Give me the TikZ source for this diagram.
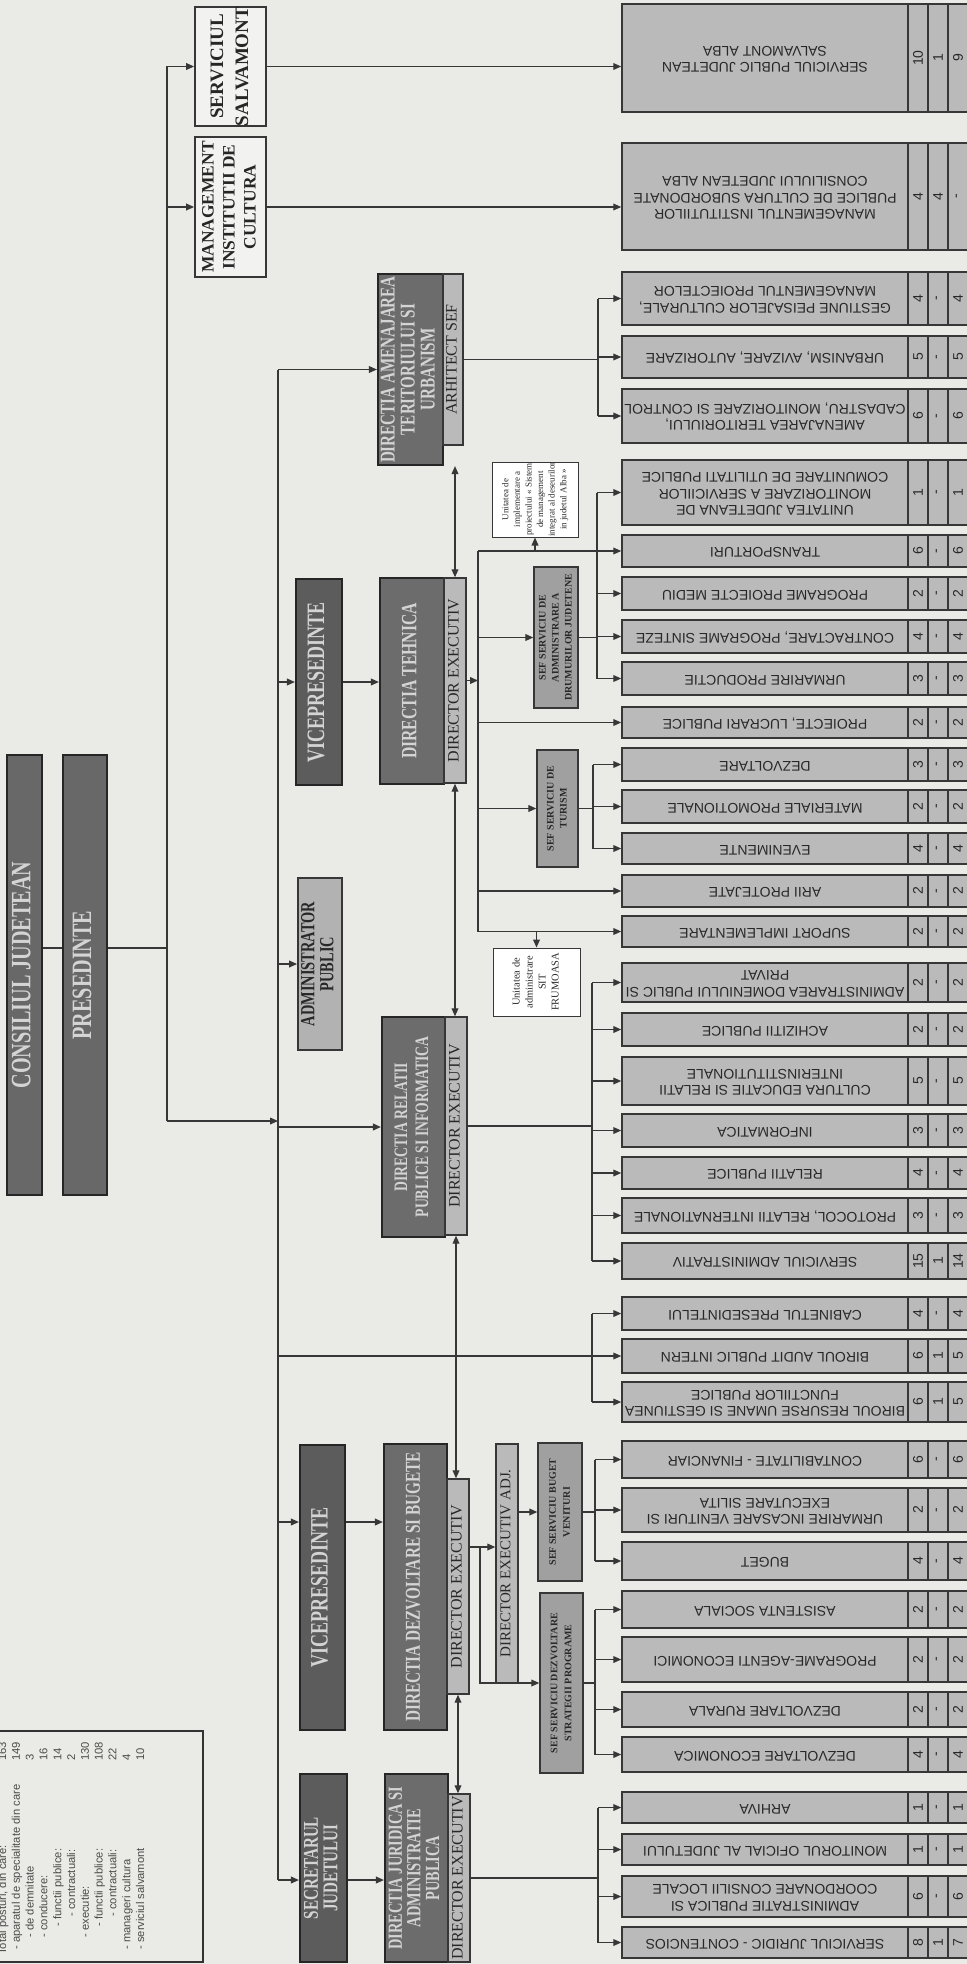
\documentclass[tikz,border=0pt]{standalone}
\usepackage{fontspec}
\setmainfont{Liberation Serif}
\newfontfamily\hfont[FakeStretch=0.72]{Liberation Serif}
\newfontfamily\sfont{Liberation Sans}
\usepackage{graphicx}
\usetikzlibrary{arrows.meta}
\definecolor{cpaper}{RGB}{234,234,231}
\definecolor{cline}{RGB}{55,55,55}
\definecolor{ctext}{RGB}{40,40,40}
\definecolor{ctop}{RGB}{104,104,104}
\definecolor{cvice}{RGB}{92,92,92}
\definecolor{cdir}{RGB}{108,108,108}
\definecolor{clite}{RGB}{186,186,186}
\definecolor{cadm}{RGB}{178,178,178}
\definecolor{cmid}{RGB}{160,160,160}
\definecolor{clight}{RGB}{212,212,212}
\definecolor{cleg}{RGB}{75,75,75}
\newcommand{\hf}[2]{\hfont\bfseries\fontsize{#1}{#2}\selectfont}
\newcommand{\vt}[1]{\rotatebox{90}{\begin{tabular}{@{}c@{}}#1\end{tabular}}}
\newcommand{\ut}[1]{\rotatebox{180}{\begin{tabular}{@{}c@{}}#1\end{tabular}}}
% box between two corners (pixel units): [style] name, x1, y1, x2, y2, text
\newcommand{\bx}[7][]{%
  \pgfmathsetmacro\bxw{(#5-#3)*0.5}\pgfmathsetmacro\bxh{(#6-#4)*0.5}%
  \node[#1,minimum width=\bxw pt,minimum height=\bxh pt] (#2) at ({(#3+#5)/2},{(#4+#6)/2}) {#7};}
% compartment on the right: name, top, bottom, text, total, conducere, executie
\newcommand{\rbox}[7]{%
  \bx[rb]{#1}{622}{#2}{908}{#3}{\ut{#4}}
  \bx[rb]{#1a}{908}{#2}{928}{#3}{\rotatebox{90}{#5}}
  \bx[rb]{#1b}{928}{#2}{948}{#3}{\rotatebox{90}{#6}}
  \bx[rb]{#1c}{948}{#2}{968}{#3}{\rotatebox{90}{#7}}}

\begin{document}
\begin{tikzpicture}[x=0.5pt,y=-0.5pt,
bx/.style={draw=cline,line width=0.7pt,inner sep=0pt,text=ctext},
hd/.style={bx,draw=black!85,line width=1.1pt,fill=ctop,text=clight},
vice/.style={hd,fill=cvice},
dir/.style={hd,fill=cdir},
exe/.style={bx,fill=clite,font=\fontsize{8}{9}\selectfont},
wb/.style={bx,fill=white!40!cpaper,line width=0.9pt,text=black!85},
sef/.style={bx,fill=cmid,font=\bfseries\fontsize{5}{6.5}\selectfont},
uni/.style={bx,fill=white,line width=0.5pt,font=\fontsize{4.5}{5.8}\selectfont},
rb/.style={bx,fill=clite,line width=0.75pt,font=\sfont\fontsize{7}{8.3}\selectfont},
ln/.style={draw=cline,line width=0.6pt},
arr/.style={ln,-{Triangle[length=4pt,width=3.4pt]}},
darr/.style={ln,{Triangle[length=4pt,width=3.4pt]}-{Triangle[length=4pt,width=3.4pt]}}]
\useasboundingbox (0,0) rectangle (967,1964);
\fill[cpaper] (0,0) rectangle (967,1964);

% conducere
\bx[hd,font={\hf{14}{15}}]{cj}{7}{755}{42}{1195}{\vt{CONSILIUL JUDETEAN}}
\bx[hd,font={\hf{14}{15}}]{pr}{63}{755}{107}{1195}{\vt{PRESEDINTE}}
\bx[wb,font=\bfseries\fontsize{9.5}{12.5}\selectfont]{sal}{195}{7}{266}{126}{\vt{SERVICIUL\\SALVAMONT}}
\bx[wb,font=\bfseries\fontsize{8.7}{10.5}\selectfont]{mgt}{195}{137}{266}{277}{\vt{MANAGEMENT\\INSTITUTII DE\\CULTURA}}
\bx[vice,font={\hf{12.5}{13}}]{vp1}{296}{579}{342}{785}{\vt{VICEPRESEDINTE}}
\bx[bx,fill=cadm,line width=0.9pt,font={\hf{10}{9.5}}]{adm}{298}{878}{342}{1050}{\vt{ADMINISTRATOR\\PUBLIC}}
\bx[vice,font={\hf{12.5}{13}}]{vp2}{300}{1445}{345}{1730}{\vt{VICEPRESEDINTE}}
\bx[vice,font={\hf{10.5}{9.5}}]{sec}{300}{1774}{347}{1962}{\vt{SECRETARUL\\JUDETULUI}}

% directii
\bx[dir,font={\hf{10.5}{10}}]{dat}{378}{274}{443}{465}{\vt{DIRECTIA AMENAJAREA\\TERITORIULUI SI\\URBANISM}}
\bx[exe]{datx}{443}{274}{463}{445}{\vt{ARHITECT SEF}}
\bx[dir,font={\hf{10.9}{11}}]{dte}{380}{578}{444}{784}{\vt{DIRECTIA TEHNICA}}
\bx[exe]{dtex}{444}{578}{466}{783}{\vt{DIRECTOR EXECUTIV}}
\bx[dir,font={\hf{9.5}{10.5}}]{drp}{382}{1017}{445}{1237}{\vt{DIRECTIA RELATII\\PUBLICE SI INFORMATICA}}
\bx[exe]{drpx}{445}{1017}{467}{1235}{\vt{DIRECTOR EXECUTIV}}
\bx[dir,font={\hf{10.6}{11}}]{ddb}{384}{1444}{447}{1730}{\vt{DIRECTIA DEZVOLTARE SI BUGETE}}
\bx[exe]{ddbx}{447}{1479}{469}{1694}{\vt{DIRECTOR EXECUTIV}}
\bx[dir,font={\hf{10}{9}}]{dja}{385}{1774}{448}{1962}{\vt{DIRECTIA JURIDICA SI\\ADMINISTRATIE\\PUBLICA}}
\bx[exe]{djax}{448}{1794}{470}{1962}{\vt{DIRECTOR EXECUTIV}}
\bx[exe,font=\fontsize{7.5}{8.5}\selectfont]{adj}{496}{1444}{518}{1683}{\vt{DIRECTOR EXECUTIV ADJ.}}

% sefi de serviciu si unitati
\bx[sef]{sdr}{534}{567}{578}{708}{\vt{SEF SERVICIU DE\\ADMINISTRARE A\\DRUMURILOR JUDETENE}}
\bx[sef]{stu}{537}{750}{578}{867}{\vt{SEF SERVICIU DE\\TURISM}}
\bx[sef,font=\bfseries\fontsize{5}{7}\selectfont]{sbv}{538}{1443}{582}{1581}{\vt{SEF SERVICIU BUGET\\VENITURI}}
\bx[sef,font=\bfseries\fontsize{5}{7}\selectfont]{sds}{540}{1593}{583}{1773}{\vt{SEF SERVICIU DEZVOLTARE\\STRATEGII PROGRAME}}
\bx[uni]{uim}{492}{462}{578}{537}{\vt{Unitatea de\\implementare a\\proiectului « Sistem\\de management\\integrat al deseurilor\\in judetul Alba »}}
\bx[uni,font=\fontsize{5.2}{6.5}\selectfont]{usf}{493}{948}{580}{1016}{\vt{Unitatea de\\administrare\\SIT\\FRUMOASA}}

% compartimente
\rbox{r1}{4}{112}{SERVICIUL PUBLIC JUDETEAN\\SALVAMONT ALBA}{10}{1}{9}
\rbox{r2}{143}{250}{MANAGEMENTUL INSTITUTIILOR\\PUBLICE DE CULTURA SUBORDONATE\\CONSILIULUI JUDETEAN ALBA}{4}{4}{-}
\rbox{r3}{272}{325}{GESTIUNE PEISAJELOR CULTURALE,\\MANAGEMENTUL PROIECTELOR}{4}{-}{4}
\rbox{r4}{336}{378}{URBANISM, AVIZARE, AUTORIZARE}{5}{-}{5}
\rbox{r5}{389}{443}{AMENAJAREA TERITORIULUI,\\CADASTRU, MONITORIZARE SI CONTROL}{6}{-}{6}
\rbox{r6}{460}{525}{UNITATEA JUDETEANA DE\\MONITORIZARE A SERVICIILOR\\COMUNITARE DE UTILITATI PUBLICE}{1}{-}{1}
\rbox{r7}{535}{567}{TRANSPORTURI}{6}{-}{6}
\rbox{r8}{577}{610}{PROGRAME PROIECTE MEDIU}{2}{-}{2}
\rbox{r9}{620}{653}{CONTRACTARE, PROGRAME SINTEZE}{4}{-}{4}
\rbox{r10}{662}{695}{URMARIRE PRODUCTIE}{3}{-}{3}
\rbox{r11}{707}{738}{PROIECTE, LUCRARI PUBLICE}{2}{-}{2}
\rbox{r12}{748}{781}{DEZVOLTARE}{3}{-}{3}
\rbox{r13}{790}{823}{MATERIALE PROMOTIONALE}{2}{-}{2}
\rbox{r14}{833}{864}{EVENIMENTE}{4}{-}{4}
\rbox{r15}{875}{907}{ARII PROTEJATE}{2}{-}{2}
\rbox{r16}{916}{947}{SUPORT IMPLEMENTARE}{2}{-}{2}
\rbox{r17}{963}{1002}{ADMINISTRAREA DOMENIULUI PUBLIC SI\\PRIVAT}{2}{-}{2}
\rbox{r18}{1013}{1046}{ACHIZITII PUBLICE}{2}{-}{2}
\rbox{r19}{1057}{1105}{CULTURA EDUCATIE SI RELATII\\INTERINSTITUTIONALE}{5}{-}{5}
\rbox{r20}{1114}{1147}{INFORMATICA}{3}{-}{3}
\rbox{r21}{1157}{1189}{RELATII PUBLICE}{4}{-}{4}
\rbox{r22}{1198}{1233}{PROTOCOL, RELATII INTERNATIONALE}{3}{-}{3}
\rbox{r23}{1243}{1279}{SERVICIUL ADMINISTRATIV}{15}{1}{14}
\rbox{r24}{1297}{1330}{CABINETUL PRESEDINTELUI}{4}{-}{4}
\rbox{r25}{1339}{1373}{BIROUL AUDIT PUBLIC INTERN}{6}{1}{5}
\rbox{r26}{1382}{1422}{BIROUL RESURSE UMANE SI GESTIUNEA\\FUNCTIILOR PUBLICE}{6}{1}{5}
\rbox{r27}{1441}{1478}{CONTABILITATE - FINANCIAR}{6}{-}{6}
\rbox{r28}{1488}{1532}{URMARIRE INCASARE VENITURI SI\\EXECUTARE SILITA}{2}{-}{2}
\rbox{r29}{1542}{1580}{BUGET}{4}{-}{4}
\rbox{r30}{1591}{1628}{ASISTENTA SOCIALA}{2}{-}{2}
\rbox{r31}{1637}{1682}{PROGRAME-AGENTI ECONOMICI}{2}{-}{2}
\rbox{r32}{1692}{1727}{DEZVOLTARE RURALA}{2}{-}{2}
\rbox{r33}{1737}{1772}{DEZVOLTARE ECONOMICA}{4}{-}{4}
\rbox{r34}{1792}{1823}{ARHIVA}{1}{-}{1}
\rbox{r35}{1834}{1865}{MONITORUL OFICIAL AL JUDETULUI}{1}{-}{1}
\rbox{r36}{1876}{1917}{ADMINISTRATIE PUBLICA SI\\COORDONARE CONSILII LOCALE}{6}{-}{6}
\rbox{r37}{1927}{1958}{SERVICIUL JURIDIC - CONTENCIOS}{8}{1}{7}

% legenda
\bx[bx,draw=black!80,line width=1pt]{leg}{-3}{1731}{203}{1962}{}
\node[anchor=south west,inner sep=0pt,text=cleg,font=\sfont\fontsize{5.6}{6.9}\selectfont] (legtxt) at (-4,1955)
 {\rotatebox{90}{\begin{tabular}{@{}p{97pt}@{}l@{}}
 Total posturi, din care: & 163\\
 \hspace*{2.5pt}- aparatul de specialitate din care & 149\\
 \hspace*{8.5pt}- de demnitate & 3\\
 \hspace*{8.5pt}- conducere: & 16\\
 \hspace*{14pt}- functii publice: & 14\\
 \hspace*{19pt}- contractuali: & 2\\
 \hspace*{8.5pt}- executie: & 130\\
 \hspace*{14pt}- functii publice: & 108\\
 \hspace*{19pt}- contractuali: & 22\\
 \hspace*{2.5pt}- manageri cultura & 4\\
 \hspace*{2.5pt}- serviciul salvamont & 10
 \end{tabular}}};

% bare de legatura
\coordinate (busA) at (167,0);
\coordinate (busB) at (278,0);
\coordinate (busC) at (478,0);
\coordinate (busD) at (598,0);
\coordinate (busE) at (597,0);
\coordinate (busF) at (593,0);
\coordinate (busG) at (592,0);
\coordinate (busH) at (595,0);
\coordinate (yP) at (0,948);
\coordinate (yA) at (0,1121);
\coordinate (yV) at (0,1522);
\coordinate (yS) at (0,1880);
\coordinate (yD) at (0,1547);
\coordinate (dj) at (480,1547);

\draw[ln] (cj.east |- yP) -- (pr.west |- yP);
\draw[ln] (pr.east |- yP) -- (busA |- yP);
\draw[ln] (busA |- sal.west) -- (busA |- yA);
\draw[arr] (busA |- sal.west) -- (sal.west);
\draw[arr] (busA |- mgt.west) -- (mgt.west);
\draw[arr] (busA |- yA) -- (busB |- yA);
\draw[ln] (busB |- dat.west) -- (busB |- yS);
\draw[arr] (busB |- dat.west) -- (dat.west);
\draw[arr] (busB |- vp1.west) -- (vp1.west);
\draw[arr] (busB |- adm.west) -- (adm.west);
\draw[arr] (busB |- drp.west) -- (drp.west);
\draw[arr] (busB |- r25.west) -- (r25.west);
\draw[arr] (busB |- yV) -- (vp2.west |- yV);
\draw[arr] (busB |- yS) -- (sec.west |- yS);
\draw[arr] (vp1.east) -- (dte.west |- vp1.east);
\draw[arr] (vp2.east |- yV) -- (ddb.west |- yV);
\draw[arr] (sec.east |- yS) -- (dja.west |- yS);
\draw[arr] (sal.east) -- (r1.west |- sal.east);
\draw[arr] (mgt.east) -- (r2.west |- mgt.east);

% directori executivi
\draw[darr] (dat.south -| dtex.center) -- (dtex.north);
\draw[darr] (dtex.south) -- (dtex.south |- drpx.north);
\draw[darr] (drpx.south) -- (drpx.south |- ddbx.north);
\draw[darr] (ddbx.south) -- (ddbx.south |- djax.north);

% urbanism
\draw[ln] (datx.east) -- (busD |- datx.east);
\draw[ln] (busD |- r3.west) -- (busD |- r5.west);
\foreach \r in {r3,r4,r5} \draw[arr] (busD |- \r.west) -- (\r.west);

% tehnica
\draw[arr] (dtex.east) -- (busC |- dtex.east);
\draw[ln] (busC |- r7.west) -- (busC |- r16.west);
\foreach \r in {r7,sdr,r11,stu,r15,r16} \draw[arr] (busC |- \r.west) -- (\r.west);
\draw[arr] (uim.south |- r7.west) -- (uim.south);
\draw[arr] (usf.north |- r16.west) -- (usf.north);
\draw[ln] (sdr.east) -- (busE |- sdr.east);
\draw[ln] (busE |- r6.west) -- (busE |- r10.west);
\foreach \r in {r6,r8,r9,r10} \draw[arr] (busE |- \r.west) -- (\r.west);
\draw[ln] (stu.east) -- (busF |- stu.east);
\draw[ln] (busF |- r12.west) -- (busF |- r14.west);
\foreach \r in {r12,r13,r14} \draw[arr] (busF |- \r.west) -- (\r.west);

% relatii publice
\draw[ln] (drpx.east) -- (busG |- drpx.east);
\draw[ln] (busG |- r17.west) -- (busG |- r23.west);
\foreach \r in {r17,r18,r19,r20,r21,r22,r23} \draw[arr] (busG |- \r.west) -- (\r.west);
\draw[ln] (busG |- r24.west) -- (busG |- r26.west);
\foreach \r in {r24,r26} \draw[arr] (busG |- \r.west) -- (\r.west);

% dezvoltare si bugete
\draw[arr] (ddbx.east |- yD) -- (adj.west |- yD);
\draw[arr] (dj) |- (sds.west);
\draw[arr] (adj.east |- sbv.west) -- (sbv.west);
\draw[ln] (sbv.east) -- (busH |- sbv.east);
\draw[ln] (busH |- r27.west) -- (busH |- r29.west);
\foreach \r in {r27,r28,r29} \draw[arr] (busH |- \r.west) -- (\r.west);
\draw[ln] (sds.east) -- (busH |- sds.east);
\draw[ln] (busH |- r30.west) -- (busH |- r33.west);
\foreach \r in {r30,r31,r32,r33} \draw[arr] (busH |- \r.west) -- (\r.west);

% juridica
\draw[ln] (djax.east) -- (busD |- djax.east);
\draw[ln] (busD |- r34.west) -- (busD |- r37.west);
\foreach \r in {r34,r35,r36,r37} \draw[arr] (busD |- \r.west) -- (\r.west);
\end{tikzpicture}
\end{document}
